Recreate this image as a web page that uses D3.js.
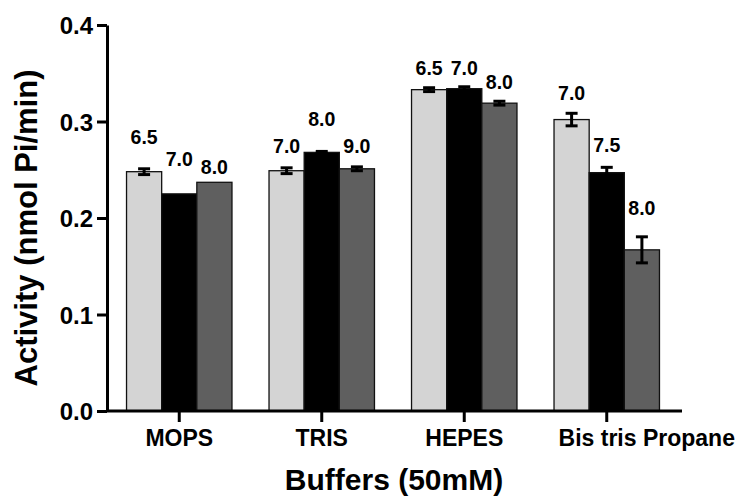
<!DOCTYPE html>
<html lang="en">
<head>
    <meta charset="UTF-8">
    <title>buffers</title>
    <script src="https://cdn.jsdelivr.net/npm/d3@7"></script>
    <style>
        body { margin: 0; background: #fff; font-family: 'Liberation Sans', Arial, sans-serif; }
        text { font-weight: bold; fill: #000; }
    </style>
</head>
<body>
<div id="chart"></div>
<script type="text/javascript">
    var w = 744;
    var h = 497;

    // data
    var buffers = ["MOPS", "TRIS", "HEPES", "Bis tris Propane"];
    var series = ["a", "b", "c"];
    var valA = [0.248, 0.249, 0.333, 0.302];
    var valB = [0.225, 0.268, 0.334, 0.247];
    var valC = [0.237, 0.251, 0.319, 0.167];
    var errA = [0.003, 0.003, 0.002, 0.0065];
    var errB = [0, 0.001, 0.002, 0.0055];
    var errC = [0, 0.002, 0.002, 0.0135];
    var phA = ["6.5", "7.0", "6.5", "7.0"];
    var phB = ["7.0", "8.0", "7.0", "7.5"];
    var phC = ["8.0", "9.0", "8.0", "8.0"];
    // level (in activity units) where each pH label sits
    var lvlA = [0.284, 0.275, 0.355, 0.330];
    var lvlB = [0.261, 0.303, 0.355, 0.276];
    var lvlC = [0.253, 0.275, 0.341, 0.210];
    var yTicks = [0, 0.1, 0.2, 0.3, 0.4];

    var colors = {a: "#d4d4d4", b: "#000000", c: "#5f5f5f"};

    var rows = [];
    buffers.forEach(function(g, i) {
        rows.push({g: g, s: "a", v: valA[i], e: errA[i], ph: phA[i], lvl: lvlA[i]});
        rows.push({g: g, s: "b", v: valB[i], e: errB[i], ph: phB[i], lvl: lvlB[i]});
        rows.push({g: g, s: "c", v: valC[i], e: errC[i], ph: phC[i], lvl: lvlC[i]});
    });

    var svg = d3.select("#chart")
        .append("svg")
        .attr("width", w)
        .attr("height", h)
        .attr("xmlns", "http://www.w3.org/2000/svg");

    var x0 = d3.scaleBand().domain(buffers).range([108, 678])
        .paddingInner(0.26).paddingOuter(0.13);
    var x1 = d3.scaleBand().domain(series).range([0, x0.bandwidth()]);
    var y = d3.scaleLinear().domain([0, 0.4]).range([411, 25]);

    function cx(d) { return x0(d.g) + x1(d.s) + x1.bandwidth() / 2; }

    // bars
    svg.selectAll(".bar")
        .data(rows)
        .enter()
        .append("rect")
        .attr("class", "bar")
        .attr("x", function(d) { return x0(d.g) + x1(d.s); })
        .attr("y", function(d) { return y(d.v); })
        .attr("width", x1.bandwidth())
        .attr("height", function(d) { return y(0) - y(d.v); })
        .attr("fill", function(d) { return colors[d.s]; })
        .attr("stroke", "#111")
        .attr("stroke-width", 1.3);

    // error bars
    var eb = svg.selectAll(".err")
        .data(rows.filter(function(d) { return d.e > 0; }))
        .enter()
        .append("g")
        .attr("class", "err")
        .attr("stroke", "#000")
        .attr("stroke-width", 3);
    eb.append("line")
        .attr("x1", cx)
        .attr("x2", cx)
        .attr("y1", function(d) { return y(d.v + d.e); })
        .attr("y2", function(d) { return y(d.v - d.e); });
    eb.selectAll(".cap")
        .data(function(d) { return [d.v + d.e, d.v - d.e].map(function(t) { return {d: d, t: t}; }); })
        .enter()
        .append("line")
        .attr("x1", function(c) { return cx(c.d) - 6; })
        .attr("x2", function(c) { return cx(c.d) + 6; })
        .attr("y1", function(c) { return y(c.t); })
        .attr("y2", function(c) { return y(c.t); });

    // pH labels
    svg.selectAll(".ph")
        .data(rows)
        .enter()
        .append("text")
        .attr("class", "ph")
        .attr("x", cx)
        .attr("y", function(d) { return y(d.lvl); })
        .attr("dy", "0.36em")
        .attr("text-anchor", "middle")
        .style("font-size", "19.5px")
        .text(function(d) { return d.ph; });

    // axes
    var yAxis = d3.axisLeft(y).tickValues(yTicks).tickFormat(d3.format(".1f"))
        .tickSize(10).tickSizeOuter(0).tickPadding(4);
    var gy = svg.append("g").attr("transform", "translate(107,0)").call(yAxis);
    gy.selectAll("text").style("font-size", "24px").attr("dy", "0.36em");

    var xAxis = d3.axisBottom(x0).tickSize(11).tickSizeOuter(0).tickPadding(8);
    var gx = svg.append("g").attr("transform", "translate(0,411)").call(xAxis);
    gx.selectAll("text").style("font-size", "23px");
    // last category label sits to the right of its tick in the original
    gx.selectAll(".tick text").filter(function(d) { return d === "Bis tris Propane"; })
        .attr("dx", 40);
    gx.select(".domain").attr("d", "M107,0H682");

    svg.selectAll(".domain, .tick line").attr("stroke", "#000").attr("stroke-width", 3);

    // axis titles
    svg.append("text")
        .attr("transform", "translate(37,228) rotate(-90)")
        .attr("text-anchor", "middle")
        .style("font-size", "31px")
        .text("Activity (nmol Pi/min)");

    svg.append("text")
        .attr("x", 394)
        .attr("y", 490)
        .attr("text-anchor", "middle")
        .style("font-size", "30px")
        .text("Buffers (50mM)");
</script>
</body>
</html>
